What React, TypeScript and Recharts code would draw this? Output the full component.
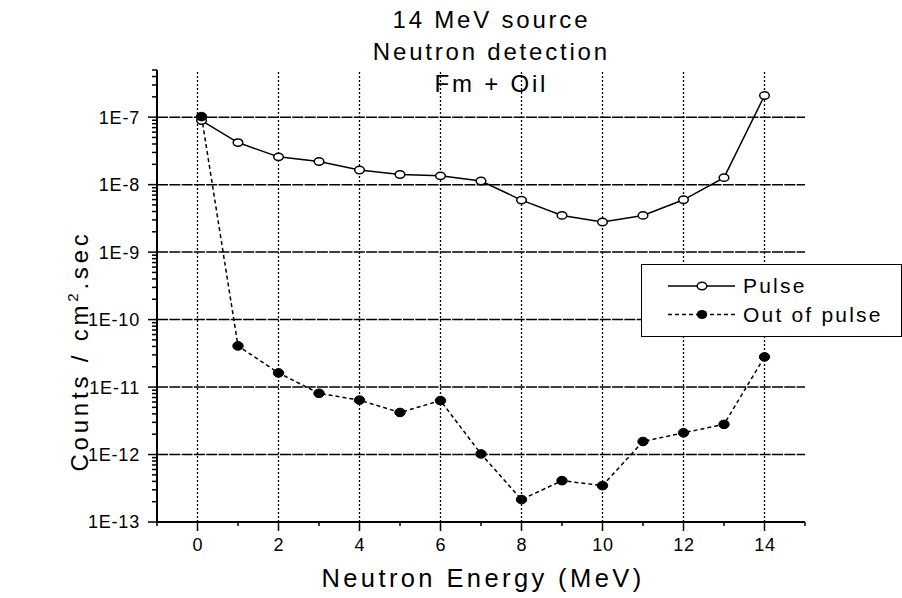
import React from 'react';
import { LineChart, Line, XAxis, YAxis, ReferenceLine, Legend } from 'recharts';

// Neutron energy (MeV)
const energies = [0.1, 1, 2, 3, 4, 5, 6, 7, 8, 9, 10, 11, 12, 13, 14];
// Counts / cm2.sec
const pulse = [8.9e-8, 4.2e-8, 2.58e-8, 2.2e-8, 1.65e-8, 1.41e-8, 1.35e-8, 1.13e-8, 5.9e-9, 3.5e-9, 2.8e-9, 3.5e-9, 5.96e-9, 1.27e-8, 2.09e-7];
const outOfPulse = [1.02e-7, 4.07e-11, 1.62e-11, 8.07e-12, 6.4e-12, 4.2e-12, 6.3e-12, 1.02e-12, 2.15e-13, 4.1e-13, 3.46e-13, 1.56e-12, 2.1e-12, 2.8e-12, 2.8e-11];

const seriesOrder = ['pulse', 'out'];
const xTicks = [-1, 0, 1, 2, 3, 4, 5, 6, 7, 8, 9, 10, 11, 12, 13, 14, 15];
const xGrid = [0, 2, 4, 6, 8, 10, 12, 14];
const decades = [1e-13, 1e-12, 1e-11, 1e-10, 1e-9, 1e-8, 1e-7];
const yGrid = [1e-12, 1e-11, 1e-10, 1e-9, 1e-8, 1e-7];
const titleLines = ['14 MeV source', 'Neutron detection', 'Fm + Oil'];

const data = energies.map((e, i) => ({ e, pulse: pulse[i], out: outOfPulse[i] }));

// minor ticks 2..9 per decade, plus 2e-7..5e-7 at the top
const yTicks: number[] = [];
decades.forEach((d) => {
  yTicks.push(d);
  if (d < 1e-7) for (let k = 2; k <= 9; k++) yTicks.push(k * d);
});
[2e-7, 3e-7, 4e-7, 5e-7].forEach((v) => yTicks.push(v));

const FONT = '"Liberation Sans", Arial, Helvetica, sans-serif';

const YTick = (props: any) => {
  const { x, y, payload } = props;
  const ex = Math.log10(payload.value);
  const major = Math.abs(ex - Math.round(ex)) < 1e-6;
  return (
    <g>
      <line x1={x} x2={x - (major ? 9 : 5)} y1={y} y2={y} stroke="#000" strokeWidth={1.5} />
      {major && (
        <text x={x - 17} y={y} dy="0.36em" textAnchor="end" fontSize={18} fontFamily={FONT} letterSpacing={0.8} fill="#000">
          {`1E${Math.round(ex)}`}
        </text>
      )}
    </g>
  );
};

const XTick = (props: any) => {
  const { x, y, payload } = props;
  const v = payload.value;
  const major = v % 2 === 0;
  return (
    <g>
      <line x1={x} x2={x} y1={y} y2={y + (major ? 9 : 4)} stroke="#000" strokeWidth={1.5} />
      {major && v >= 0 && v <= 14 && (
        <text x={x + 0.5} y={y + 28.8} textAnchor="middle" fontSize={18} fontFamily={FONT} letterSpacing={0.8} fill="#000">
          {v}
        </text>
      )}
    </g>
  );
};

const OpenDot = (props: any) => {
  const { cx, cy } = props;
  if (cx == null || cy == null) return null;
  return <ellipse cx={cx} cy={cy} rx={4.8} ry={3.7} fill="#fff" stroke="#000" strokeWidth={1.5} />;
};

const FilledDot = (props: any) => {
  const { cx, cy } = props;
  if (cx == null || cy == null) return null;
  return <ellipse cx={cx} cy={cy} rx={5.2} ry={4.3} fill="#000" stroke="#000" strokeWidth={1} />;
};

const XLabel = () => (
  <text x={483} y={587} textAnchor="middle" fontSize={25.5} fontFamily={FONT} letterSpacing={3.4} fill="#000">
    Neutron Energy (MeV)
  </text>
);

const YLabel = () => (
  <text x={88} y={351} transform="rotate(-90, 88, 351)" textAnchor="middle" fontSize={24} fontFamily={FONT} letterSpacing={3.8} fill="#000">
    Counts / cm
    <tspan fontSize={15} dy={-10}>2</tspan>
    <tspan dy={10}>.sec</tspan>
  </text>
);

const LegendBox = (props: any) => {
  const items = [...(props.payload || [])].sort(
    (a: any, b: any) => seriesOrder.indexOf(a.dataKey) - seriesOrder.indexOf(b.dataKey)
  );
  return (
    <div style={{ width: 261, height: 73, boxSizing: 'border-box', border: '1.5px solid #000', background: '#fff' }}>
      <svg width={258} height={70}>
        {items.map((it: any, i: number) => {
          const cy = 21 + i * 28.5;
          const dashed = it.dataKey === 'out';
          return (
            <g key={it.value}>
              <line x1={26} x2={93} y1={cy} y2={cy} stroke="#000" strokeWidth={1.5} strokeDasharray={dashed ? '4 3' : undefined} />
              {dashed ? (
                <ellipse cx={60} cy={cy} rx={5.2} ry={4.5} fill="#000" />
              ) : (
                <ellipse cx={60} cy={cy} rx={4.8} ry={3.7} fill="#fff" stroke="#000" strokeWidth={1.5} />
              )}
              <text x={101} y={cy + 7.3} fontSize={21} fontFamily={FONT} letterSpacing={2.2} fill="#000">
                {it.value}
              </text>
            </g>
          );
        })}
      </svg>
    </div>
  );
};

export default function App() {
  return (
    <div style={{ position: 'absolute', left: 0, top: 0, width: 902, height: 598, background: '#fff' }}>
      <LineChart width={902} height={598} data={data} margin={{ top: 70, right: 97, bottom: 16, left: 0 }}>
        <XAxis
          dataKey="e"
          type="number"
          domain={[-1, 15]}
          ticks={xTicks}
          interval={0}
          tickSize={0}
          tickMargin={0}
          height={60}
          tick={<XTick />}
          tickLine={false}
          axisLine={{ stroke: '#000', strokeWidth: 2 }}
          label={<XLabel />}
        />
        <YAxis
          type="number"
          scale="log"
          domain={[1e-13, 5e-7]}
          allowDataOverflow
          ticks={yTicks}
          interval={0}
          tickSize={0}
          tickMargin={0}
          width={157}
          tick={<YTick />}
          tickLine={false}
          axisLine={{ stroke: '#000', strokeWidth: 2 }}
          label={<YLabel />}
        />
        {xGrid.map((v) => (
          <ReferenceLine key={`vx${v}`} x={v} stroke="#000" strokeWidth={1.3} strokeDasharray="2 2" />
        ))}
        {yGrid.map((v) => (
          <ReferenceLine key={`hy${v}`} y={v} stroke="#000" strokeWidth={1.5} strokeDasharray="11 1.3" />
        ))}
        <Legend
          layout="vertical"
          align="center"
          verticalAlign="middle"
          content={<LegendBox />}
          wrapperStyle={{ position: 'absolute', left: 641, top: 264, width: 261, height: 73 }}
        />
        <Line
          name="Pulse"
          dataKey="pulse"
          type="linear"
          stroke="#000"
          strokeWidth={1.5}
          dot={<OpenDot />}
          activeDot={false}
          isAnimationActive={false}
        />
        <Line
          name="Out of pulse"
          dataKey="out"
          type="linear"
          stroke="#000"
          strokeWidth={1.5}
          strokeDasharray="4 3"
          dot={<FilledDot />}
          activeDot={false}
          isAnimationActive={false}
        />
      </LineChart>
      <div style={{ position: 'absolute', left: 0, top: 3.7, width: 980, textAlign: 'center', fontFamily: FONT, fontSize: 24, letterSpacing: 2.8, lineHeight: '32px', color: '#000', pointerEvents: 'none' }}>
        {titleLines.map((t) => (
          <div key={t} style={{ paddingLeft: 2.8 }}>{t}</div>
        ))}
      </div>
    </div>
  );
}
